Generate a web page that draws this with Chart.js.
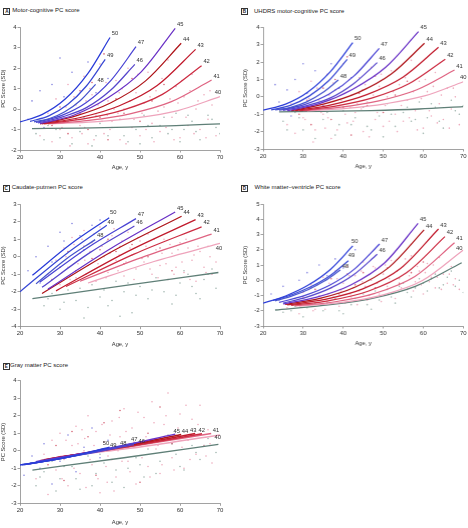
<!DOCTYPE html>
<html><head><meta charset="utf-8"><title>PC scores by CAG length</title>
<script src="https://cdn.jsdelivr.net/npm/chart.js@4.4.1/dist/chart.umd.min.js"></script>
<style>
html,body{margin:0;padding:0;background:#fff;}
body{width:468px;height:528px;position:relative;overflow:hidden;font-family:"Liberation Sans",Arial,sans-serif;}
.ptitle{position:absolute;font-size:6px;color:#222;white-space:nowrap;line-height:7px;}
.pbox{position:absolute;width:5px;height:5px;border:0.8px solid #333;font-size:4.6px;font-weight:bold;line-height:5px;text-align:center;color:#222;}
canvas{position:absolute;}
</style></head><body>
<script>
// ---------- DATA ----------
const cagLengths = [50,49,48,47,46,45,44,43,42,41,40];
const xTicks = [20,30,40,50,60,70];

// Panel A: Motor-cognitive PC score
const ageA = [[20,25.6,31.3,36.9,42.5],[22.5,27.2,31.9,36.6,41.3],[23.5,27.4,31.2,35.1,38.9],[24,30.3,36.5,42.8,49],[24.5,30.6,36.6,42.7,48.7],[25,33.4,41.9,50.3,58.8],[25,33.8,42.6,51.4,60.3],[25.5,35.1,44.7,54.3,63.9],[26,35.9,45.7,55.6,65.4],[27,37.2,47.5,57.7,67.9],[28,38.5,49,59.5,70]];
const scoreA = [[-0.63,-0.26,0.49,1.72,3.5],[-0.6,-0.33,0.22,1.13,2.43],[-0.62,-0.46,-0.13,0.42,1.21],[-0.65,-0.32,0.31,1.42,3.05],[-0.68,-0.38,0.07,0.93,2.19],[-0.7,-0.3,0.54,1.82,3.95],[-0.72,-0.34,0.30,1.38,3.22],[-0.72,-0.41,0.15,1.15,2.92],[-0.72,-0.48,-0.05,0.72,2.12],[-0.72,-0.55,-0.23,0.35,1.42],[-0.72,-0.62,-0.43,-0.07,0.61]];
const ctrlAgeA = [23,35,47,59,70];
const ctrlScoreA = [-0.95,-0.93,-0.88,-0.81,-0.72];
const pinkA = [[25,-1.3],[27,-0.2],[28,-1.6],[29,0.5],[30,-1.0],[31,-0.4],[32,1.2],[33,-1.4],[34,0.2],[35,-0.8],[36,1.6],[37,-1.7],[38,0.7],[39,-0.3],[40,2.2],[41,-1.2],[42,0.4],[43,-0.6],[44,1.4],[45,-1.5],[46,0.0],[47,2.0],[48,-0.9],[49,0.8],[50,-1.3],[51,0.3],[52,1.8],[53,-0.7],[54,0.9],[55,-1.1],[56,0.1],[57,2.4],[58,-0.4],[59,1.1],[60,-1.4],[61,0.6],[62,-0.8],[63,1.7],[64,0.0],[65,-1.0],[66,0.7],[67,-0.5],[68,0.2],[69,-1.3],
 [30.5,-0.9],[31.5,0.1],[32.5,-1.8],[33.5,0.6],[34.5,-0.3],[35.5,-1.2],[36.5,0.4],[37.5,1.0],[38.5,-1.5],[39.5,0.2],[40.5,-0.6],[41.5,1.3],[42.5,-1.0],[43.5,0.0],[44.5,-0.2],[45.5,1.0],[46.5,-1.7],[47.5,0.4],[48.5,-0.5],[49.5,1.7],[50.5,-0.2],[51.5,-1.0],[52.5,0.6],[53.5,-1.6],[54.5,-0.1],[55.5,1.5],[56.5,-0.9],[57.5,0.5],[58.5,-1.5],[59.5,0.3],[60.5,1.4],[61.5,-0.4],[62.5,0.9],[63.5,-1.2],[64.5,0.4],[66.5,-1.4],[67.5,0.9],[36.2,-0.9],[41.8,-0.3],[44.8,0.8]];
const redA = [[28,-0.8],[30,0.1],[32,-1.2],[34,-0.5],[35,0.9],[37,-1.0],[38,1.3],[40,-0.4],[41,2.7],[42,-1.5],[44,0.5],[46,-0.2],[48,1.5],[50,-0.6],[53,0.4],[56,1.2]];
const blueA = [[22,-0.5],[23,0.4],[25,0.9],[26,-0.9],[28,1.2],[30,2.5],[31,0.6],[33,1.8],[35,-0.2],[37,2.3],[39,0.8],[42,1.5]];
const grayA = [[24,-1.2],[27,-0.8],[30,-1.4],[32,-0.6],[35,-1.1],[38,-1.8],[40,-0.7],[42,-1.3],[45,-0.5],[47,-1.6],[49,-1.0],[51,-0.3],[53,-1.4],[55,-0.8],[57,-1.2],[59,-0.2],[61,-1.0],[63,-0.6],[65,-1.5],[67,-0.3],[69,-0.9],[70,-1.2],
 [26,-1.5],[29,-1.0],[33,-1.7],[36,-0.4],[39,-1.3],[43,-0.9],[46,-1.3],[50,-1.7],[52,-0.8],[56,-0.4],[58,-1.0],[60,-1.6],[62,-0.3],[64,-1.1],[68,-0.5]];

// Panel B: UHDRS motor-cognitive PC score
const ageB = [[20,25.6,31.2,36.8,42.4],[22,26.8,31.5,36.3,41],[23,26.9,30.9,34.8,38.8],[24,30.3,36.5,42.8,49],[25,30.9,36.8,42.6,48.5],[26,34.2,42.4,50.6,58.8],[27,35.3,43.7,52,60.3],[28,37,45.9,54.9,63.8],[29,38.1,47.3,56.4,65.5],[30,39.5,48.9,58.4,67.8],[31,40.8,50.5,60.3,70]];
const scoreB = [[-0.77,-0.42,0.28,1.45,3.12],[-0.75,-0.49,0.04,0.91,2.16],[-0.75,-0.60,-0.29,0.23,0.97],[-0.77,-0.45,0.16,1.22,2.79],[-0.78,-0.50,-0.06,0.76,1.97],[-0.8,-0.38,0.44,1.70,3.75],[-0.8,-0.41,0.24,1.31,3.08],[-0.8,-0.46,0.13,1.13,2.85],[-0.8,-0.53,-0.06,0.75,2.16],[-0.8,-0.59,-0.23,0.41,1.54],[-0.8,-0.66,-0.40,0.05,0.87]];
const ctrlAgeB = [24,35,47,59,70];
const ctrlScoreB = [-0.86,-0.84,-0.79,-0.70,-0.56];
const pinkB = [[26,-1.6],[27,-0.4],[28,-2.1],[29,0.3],[30,-1.2],[31,-0.7],[32,0.9],[33,-1.9],[34,-0.2],[35,-1.0],[36,1.3],[37,-2.4],[38,0.4],[39,-0.6],[40,1.9],[41,-1.5],[42,0.1],[43,-0.9],[44,1.1],[45,-2.0],[46,-0.3],[47,1.7],[48,-1.3],[49,0.6],[50,-1.7],[51,0.0],[52,1.5],[53,-1.0],[54,0.7],[55,-1.4],[56,-0.2],[57,2.1],[58,-0.8],[59,0.9],[60,-1.8],[61,0.3],[62,-1.1],[63,1.4],[64,-0.4],[65,-1.3],[66,0.5],[67,-0.7],[68,0.0],[69,-1.6],
 [30.5,-1.3],[31.5,-0.1],[32.5,-2.6],[33.5,0.5],[34.5,-0.9],[35.5,-1.8],[36.5,0.1],[37.5,0.8],[38.5,-1.9],[39.5,-0.2],[40.5,-1.0],[41.5,1.0],[42.5,-1.4],[43.5,-0.4],[44.5,-0.7],[45.5,0.7],[46.5,-2.3],[47.5,0.1],[48.5,-0.9],[49.5,1.3],[50.5,-0.5],[51.5,-1.4],[52.5,0.3],[53.5,-2.0],[54.5,-0.5],[55.5,1.1],[56.5,-1.2],[57.5,0.3],[58.5,-1.9],[59.5,-0.1],[60.5,1.0],[61.5,-0.8],[62.5,0.6],[63.5,-1.5],[64.5,0.1],[66.5,-1.8],[67.5,0.5],[36.2,-1.2],[41.8,-0.6],[44.8,0.4]];
const redB = [[29,-1.0],[31,-0.2],[32,-1.6],[34,-0.8],[35,0.5],[37,-1.3],[38,1.0],[40,-0.6],[41,2.3],[42,-2.2],[44,0.2],[46,-0.5],[48,1.2],[50,-0.9],[53,0.1],[56,0.9]];
const blueB = [[23,0.7],[24,-0.3],[26,0.4],[27,-1.1],[28,1.0],[30,1.9],[31,0.2],[33,1.5],[35,-0.5],[37,1.9],[39,0.5],[42,1.1]];
const grayB = [[25,-1.4],[28,-0.9],[30,-1.9],[33,-0.7],[35,-1.3],[38,-2.2],[40,-0.8],[42,-1.6],[45,-0.6],[47,-1.9],[49,-1.1],[51,-0.4],[53,-1.7],[55,-0.9],[57,-1.4],[59,-0.3],[61,-1.2],[63,-0.6],[65,-1.8],[67,-0.2],[69,-1.0],[70,-0.5],
 [26,-1.9],[29,-1.2],[33,-2.4],[36,-0.9],[39,-1.6],[43,-1.2],[46,-1.7],[50,-2.3],[52,-1.0],[56,-0.6],[58,-1.3],[60,-2.1],[62,-0.4],[64,-1.4],[68,-0.8]];

// Panel C: Caudate-putmen PC score
const ageC = [[23.1,32.7,42.3],[20,30.9,41.7],[24,31.4,38.8],[25,37,49],[25.5,37.1,48.6],[27,42.9,58.8],[25.5,43,60.4],[29,46.5,63.9],[31.5,48.5,65.4],[35,51.5,67.9],[37,53.5,70]];
const scoreC = [[-1.06,0.73,2.23],[-2.0,0.05,1.8],[-1.55,-0.15,0.98],[-1.45,0.53,2.18],[-1.75,0.18,1.76],[-1.85,0.50,2.56],[-2.1,0.3,2.32],[-1.95,0.25,2.12],[-1.7,0.15,1.71],[-1.4,0.05,1.29],[-1.5,-0.27,0.76]];
const ctrlAgeC = [23.1,46,69.6];
const ctrlScoreC = [-2.4,-1.65,-0.9];
const pinkC = [[27,-1.0],[29,-0.2],[30,-1.6],[31,0.5],[32,-0.6],[33,1.1],[34,-1.2],[35,0.2],[36,1.5],[37,-0.5],[38,0.8],[39,-1.4],[40,1.7],[41,0.0],[42,-0.9],[43,1.2],[44,-0.2],[45,0.6],[46,-1.1],[47,1.4],[48,0.1],[49,-0.7],[50,0.9],[51,-0.3],[52,1.3],[53,-1.0],[54,0.4],[55,-0.5],[56,1.0],[57,-1.3],[58,0.2],[59,-0.6],[60,0.8],[61,-0.9],[62,0.5],[63,-0.2],[64,-1.4],[65,0.3],[66,-0.6],[67,0.6],[68,-1.0],[69,-0.3],
 [30.5,-0.9],[31.5,0.0],[32.5,-1.3],[33.5,0.7],[34.5,-0.4],[35.5,1.0],[36.5,-1.0],[37.5,0.3],[38.5,1.3],[39.5,-0.4],[40.5,0.6],[41.5,-1.2],[42.5,0.2],[43.5,1.6],[44.5,-0.8],[45.5,0.9],[46.5,-0.3],[47.5,0.5],[48.5,-1.3],[49.5,1.1],[50.5,-0.1],[51.5,0.6],[52.5,-0.7],[53.5,1.0],[54.5,-1.2],[55.5,0.2],[56.5,-0.4],[57.5,0.7],[58.5,-1.0],[59.5,0.4],[60.5,-0.3],[61.5,1.0],[62.5,-1.3],[63.5,0.1],[64.5,0.6],[66.5,-0.9],[67.5,0.0],[36.2,-0.2],[41.8,0.9],[44.8,0.1]];
const redC = [[28,-1.3],[30,-0.6],[32,0.3],[34,-0.8],[36,0.6],[38,-0.1],[40,0.4],[42,1.0],[44,0.3],[46,-0.4],[48,0.7],[52,0.0],[55,0.5],[58,-0.8]];
const blueC = [[22,-0.8],[24,0.0],[25,-1.5],[27,0.6],[28,-0.3],[30,1.4],[31,0.9],[33,1.9],[35,1.2],[36,0.4],[38,1.8],[40,2.1]];
const grayC = [[26,-2.8],[28,-2.1],[30,-3.0],[32,-1.9],[34,-2.5],[36,-3.5],[38,-1.6],[40,-2.3],[42,-2.8],[44,-1.4],[46,-2.0],[48,-3.2],[50,-1.7],[52,-2.4],[54,-1.2],[56,-2.0],[58,-2.7],[60,-1.5],[62,-1.0],[64,-2.1],[66,-1.3],[68,-0.7],[69,-1.8],[45,-3.4],
 [27,-2.4],[31,-2.6],[35,-1.8],[37,-2.9],[41,-1.9],[43,-2.5],[47,-1.5],[49,-2.2],[53,-1.9],[57,-1.3],[59,-2.2],[61,-0.8],[63,-1.7],[65,-2.4],[67,-1.0]];

// Panel D: White matter-ventricle PC score
const ageD = [[20,25.6,31.2,36.8,42.4],[22.5,27.2,31.9,36.6,41.3],[23,27.1,31.2,35.2,39.3],[24,30.3,36.6,42.8,49.1],[25,30.9,36.8,42.6,48.5],[25,33.4,41.9,50.3,58.7],[25.5,34.2,42.9,51.5,60.2],[26,35.4,44.9,54.3,63.8],[27,36.6,46.2,55.8,65.4],[28,38,47.9,57.9,67.8],[29,39.3,49.5,59.8,70]];
const scoreD = [[-1.5,-1.03,-0.33,0.71,2.25],[-1.32,-0.95,-0.43,0.28,1.28],[-1.35,-1.04,-0.62,-0.07,0.67],[-1.45,-1.01,-0.33,0.73,2.38],[-1.5,-1.11,-0.52,0.36,1.70],[-1.55,-1.11,-0.31,1.13,3.73],[-1.58,-1.19,-0.46,0.86,3.30],[-1.62,-1.26,-0.57,0.77,3.36],[-1.65,-1.33,-0.72,0.49,2.86],[-1.68,-1.41,-0.86,0.25,2.46],[-1.7,-1.47,-0.99,-0.02,1.98]];
const ctrlAgeD = [23,35,47,58,69.6];
const ctrlScoreD = [-1.95,-1.65,-1.2,-0.4,1.15];
const pinkD = [[26,-1.8],[28,-1.2],[29,-2.2],[30,-0.8],[31,-1.5],[32,-0.3],[33,-1.9],[34,-1.0],[35,0.2],[36,-1.4],[37,-0.5],[38,0.6],[39,-1.7],[40,-0.2],[41,0.9],[42,-1.1],[43,0.3],[44,-0.7],[45,1.2],[46,-1.3],[47,0.0],[48,0.8],[49,-0.9],[50,0.4],[51,-0.4],[52,1.3],[53,-1.2],[54,0.1],[55,0.9],[56,-0.6],[57,1.6],[58,-0.1],[59,0.6],[60,-0.9],[61,1.1],[62,0.2],[63,-0.5],[64,1.5],[65,0.4],[66,-0.2],[67,0.9],[68,0.1],[69,-0.6],
 [30.5,-1.4],[31.5,-0.6],[32.5,-2.0],[33.5,-0.3],[34.5,-1.2],[35.5,-1.9],[36.5,-0.2],[37.5,-1.1],[38.5,0.1],[39.5,-0.7],[40.5,-1.5],[41.5,0.3],[42.5,-0.5],[43.5,-1.6],[44.5,0.6],[45.5,-0.4],[46.5,-1.0],[47.5,0.9],[48.5,-0.2],[49.5,-1.4],[50.5,1.0],[51.5,0.1],[52.5,-0.8],[53.5,0.6],[54.5,-0.5],[55.5,1.4],[56.5,0.3],[57.5,-0.7],[58.5,0.9],[59.5,-0.3],[60.5,0.5],[61.5,-0.1],[62.5,1.0],[63.5,0.2],[64.5,-0.6],[66.5,0.4],[67.5,-0.3],[36.2,-0.9],[41.8,-0.9],[44.8,-0.1]];
const redD = [[27,-1.5],[30,-1.1],[33,-0.6],[35,-1.6],[37,0.1],[39,-0.9],[41,0.4],[43,-0.3],[45,0.5],[48,-0.5],[51,0.8],[54,-0.2],[57,0.5],[60,1.2]];
const blueD = [[22,-0.9],[24,-1.3],[25,-0.4],[27,-0.9],[29,0.0],[31,0.5],[32,-0.5],[34,1.0],[36,0.3],[38,1.4],[40,0.8],[43,2.0]];
const grayD = [[25,-2.1],[28,-1.7],[30,-2.4],[33,-1.5],[35,-2.0],[38,-1.2],[40,-2.2],[42,-1.6],[45,-0.9],[47,-1.9],[49,-1.3],[51,-0.6],[53,-1.5],[55,-0.2],[57,-1.1],[59,0.1],[61,-0.7],[63,0.4],[65,-0.3],[67,0.6],[69,0.0],[70,-0.8],
 [27,-2.0],[31,-1.8],[36,-1.5],[39,-2.0],[43,-1.2],[46,-1.6],[48,-0.7],[52,-1.1],[54,-0.4],[56,-0.8],[58,-0.5],[60,-0.2],[62,0.1],[64,-0.5],[66,0.2],[68,-0.4]];

// Panel E: Gray matter PC score
const ageE = [[20,31.2,42.4],[20.5,30.8,41],[21,29.9,38.8],[22,35.5,49],[22.5,35.5,48.5],[24,41.4,58.8],[25,42.7,60.3],[26,44.9,63.8],[27.5,46.5,65.5],[29,48.4,67.8],[30,50,70]];
const scoreE = [[-0.81,-0.4,0.2],[-0.8,-0.42,0.1],[-0.79,-0.46,-0.05],[-0.75,-0.2,0.45],[-0.73,-0.22,0.35],[-0.62,0.1,0.95],[-0.57,0.12,0.93],[-0.52,0.2,0.98],[-0.45,0.22,0.97],[-0.38,0.27,0.98],[-0.33,0.22,0.9]];
const ctrlAgeE = [23.1,46,69.6];
const ctrlScoreE = [-1.1,-0.4,0.37];
const pinkE = [[24,-1.6],[26,-0.2],[27,-2.5],[28,0.6],[29,-1.1],[30,1.0],[31,-0.5],[32,-2.0],[33,0.3],[34,1.4],[35,-1.3],[36,0.0],[37,2.0],[38,-0.8],[39,1.1],[40,-2.4],[41,0.5],[42,-0.3],[43,1.7],[44,-1.5],[45,0.8],[46,2.4],[47,-0.6],[48,1.3],[49,-1.9],[50,0.4],[51,1.9],[52,-0.9],[53,2.8],[54,0.1],[55,-1.3],[56,1.5],[57,3.3],[58,-0.4],[59,0.9],[60,2.1],[61,-1.0],[62,0.6],[63,1.8],[64,-0.2],[65,2.6],[66,0.3],[67,1.2],[68,-0.7],[69,0.8],
 [30.5,-1.6],[31.5,0.6],[32.5,-0.3],[33.5,-1.0],[34.5,0.4],[35.5,1.2],[36.5,-2.1],[37.5,-0.5],[38.5,0.3],[39.5,-1.6],[40.5,1.5],[41.5,-0.9],[42.5,0.9],[43.5,-2.3],[44.5,0.0],[45.5,-0.6],[46.5,1.1],[47.5,-1.2],[48.5,0.5],[49.5,2.2],[50.5,-0.4],[51.5,0.8],[52.5,-1.5],[53.5,1.6],[54.5,0.3],[55.5,-0.8],[56.5,2.0],[57.5,0.6],[58.5,-1.1],[59.5,1.3],[60.5,0.2],[61.5,2.6],[62.5,-0.5],[63.5,0.9],[64.5,1.5],[66.5,-0.3],[67.5,0.4],[36.2,0.7],[41.8,-1.8],[44.8,1.9]];
const redE = [[27,-0.8],[29,0.3],[31,-1.7],[33,1.1],[35,-0.2],[37,0.8],[39,-1.4],[41,1.6],[43,-0.5],[45,2.3],[47,0.2],[50,-1.8],[52,1.0],[55,2.5],[58,0.4]];
const blueE = [[21,-1.4],[23,-0.3],[25,-1.0],[26,0.4],[28,-1.9],[30,-0.6],[32,0.9],[34,-1.2],[36,0.2],[38,1.3],[40,-0.4],[42,0.6]];
const grayE = [[24,-2.0],[26,-1.2],[28,-0.6],[30,-1.6],[33,-0.9],[35,-2.2],[37,-0.3],[39,-1.3],[41,-0.7],[43,-1.8],[45,0.2],[47,-1.0],[49,-0.4],[51,-1.5],[53,0.5],[55,-0.6],[57,0.9],[59,-0.2],[61,-1.1],[63,0.3],[65,-0.5],[67,0.7],[69,-0.1],
 [25,-1.5],[29,-2.3],[31,-0.9],[34,-1.6],[38,-2.0],[40,-0.2],[44,-1.1],[46,-2.1],[50,-0.8],[52,0.1],[54,-1.3],[58,0.4],[60,-0.9],[64,-0.1],[66,0.3]];

// ---------- STYLE / LAYOUT ----------
const lineColors = ['#2a3cd8','#3848d4','#4654cc','#4a44d4','#5646cc','#6a32c6','#ae1419','#c11a2c','#cc2c42','#df6482','#eea3bb'];
const ctrlColor = '#5f7f77';
const dotColors = ['rgba(234,150,172,0.8)','rgba(196,40,64,0.7)','rgba(84,84,212,0.7)','rgba(140,166,158,0.8)'];
const FONT = '"Liberation Sans", Arial, sans-serif';

const panels = [
 {letter:'A', title:'Motor-cognitive PC score', ages:ageA, scores:scoreA, cA:ctrlAgeA, cS:ctrlScoreA, dots:[pinkA,redA,blueA,grayA], yMin:-2, yMax:4,
  area:{x0:20,x1:220,y0:27.3,y1:150}, xH:22, right:232, box:[3.3,7.7], text:[12.3,7], off:{40:[-2,-4]}},
 {letter:'B', title:'UHDRS motor-cognitive PC score', ages:ageB, scores:scoreB, cA:ctrlAgeB, cS:ctrlScoreB, dots:[pinkB,redB,blueB,grayB], yMin:-3, yMax:4,
  area:{x0:263.3,x1:463.3,y0:27.3,y1:149}, xH:22, right:468, box:[241,8.3], text:[254,7.5], off:{40:[0,-4]}},
 {letter:'C', title:'Caudate-putmen PC score', ages:ageC, scores:scoreC, cA:ctrlAgeC, cS:ctrlScoreC, dots:[pinkC,redC,blueC,grayC], yMin:-4, yMax:3,
  area:{x0:20,x1:220,y0:204.3,y1:326.7}, xH:22, right:232, box:[2.7,184.7], text:[11.7,184.2], off:{40:[-1,5],50:[4,-5],49:[4,-2.5]}},
 {letter:'D', title:'White matter\u2013ventricle PC score', ages:ageD, scores:scoreD, cA:ctrlAgeD, cS:ctrlScoreD, dots:[pinkD,redD,blueD,grayD], yMin:-3, yMax:5,
  area:{x0:263.3,x1:463.3,y0:204,y1:326}, xH:22, right:468, box:[241,184.5], text:[254.5,184], off:{40:[-4,-2],50:[2,-5],49:[3,-5]}},
 {letter:'E', title:'Gray matter PC score', ages:ageE, scores:scoreE, cA:ctrlAgeE, cS:ctrlScoreE, dots:[pinkE,redE,blueE,grayE], yMin:-3, yMax:4,
  area:{x0:20,x1:220,y0:380.7,y1:503.3}, xH:24, right:232, box:[2.7,362.5], text:[10,362],
  off:{50:[-3.6,-4],49:[9.3,-4],48:[28,-8.4],47:[-1.7,-3],46:[7.7,-3.6],45:[1.5,-3.1],44:[3.8,-3.5],43:[-1.9,-3.6],42:[-0.3,-3.8],41:[4.8,-3.6],40:[-2.3,2.3]}, lw:1.5}
];

const endLabels = {
  id:'endLabels',
  afterDatasetsDraw(chart, args, opts){
    const ctx = chart.ctx, xs = chart.scales.x, ys = chart.scales.y;
    ctx.save();
    ctx.font = '5.8px ' + FONT;
    ctx.fillStyle = '#333';
    ctx.textAlign = 'center';
    ctx.textBaseline = 'middle';
    chart.data.datasets.forEach(ds => {
      if (ds.cag == null) return;
      const p = ds.data[ds.data.length-1];
      const o = (opts.off && opts.off[ds.cag]) || [5,-4];
      ctx.fillText(String(ds.cag), xs.getPixelForValue(p.x)+o[0], ys.getPixelForValue(p.y)+o[1]);
    });
    ctx.restore();
  }
};

panels.forEach(pn => {
  const box = document.createElement('div');
  box.className = 'pbox'; box.textContent = pn.letter;
  box.style.left = pn.box[0]+'px'; box.style.top = pn.box[1]+'px';
  document.body.appendChild(box);
  const tt = document.createElement('div');
  tt.className = 'ptitle'; tt.textContent = pn.title;
  tt.style.left = pn.text[0]+'px'; tt.style.top = pn.text[1]+'px';
  document.body.appendChild(tt);

  const a = pn.area;
  const yW = Math.min(21, a.x0);
  const L = a.x0 - yW;
  const T = Math.floor(a.y0 - 12);
  const W = pn.right - L;
  const H = Math.ceil(a.y1 + pn.xH - T);
  const cv = document.createElement('canvas');
  cv.width = W; cv.height = H;
  cv.style.left = L+'px'; cv.style.top = T+'px';
  cv.style.width = W+'px'; cv.style.height = H+'px';
  document.body.appendChild(cv);

  const datasets = [];
  cagLengths.forEach((c, i) => {
    datasets.push({type:'line', cag:c, data: pn.ages[i].map((x,j)=>({x, y: pn.scores[i][j]})),
      borderColor: lineColors[i], borderWidth: pn.lw || 1.25, pointRadius:0, fill:false,
      cubicInterpolationMode:'monotone', order:1});
  });
  datasets.push({type:'line', data: pn.cA.map((x,j)=>({x, y: pn.cS[j]})), borderColor: ctrlColor, borderWidth:1.3,
    pointRadius:0, fill:false, cubicInterpolationMode:'monotone', order:2});
  pn.dots.forEach((arr, k) => {
    datasets.push({type:'scatter', data: arr.map(p=>({x:p[0], y:p[1]})), backgroundColor: dotColors[k],
      borderWidth:0, pointRadius:0.8, order:3});
  });

  new Chart(cv, {
    type:'scatter',
    data:{datasets},
    plugins:[endLabels],
    options:{
      responsive:false, animation:false, devicePixelRatio:1,
      layout:{padding:{left:0, top:a.y0 - T, right: L + W - a.x1, bottom: T + H - (a.y1 + pn.xH)}},
      plugins:{legend:{display:false}, tooltip:{enabled:false}, endLabels:{off:pn.off}},
      scales:{
        x:{type:'linear', min:20, max:70,
          afterBuildTicks: s => { s.ticks = xTicks.map(v => ({value:v})); },
          ticks:{font:{size:6, family:FONT}, color:'#333', padding:1, maxRotation:0},
          grid:{drawOnChartArea:false, tickLength:2.5, color:'#8a8a8a', lineWidth:0.8},
          border:{color:'#8a8a8a', width:0.8},
          title:{display:true, text:'Age, y', font:{size:5.8, family:FONT}, color:'#333', padding:{top:0,bottom:1}},
          afterFit: s => { s.height = pn.xH; }},
        y:{type:'linear', min:pn.yMin, max:pn.yMax,
          ticks:{stepSize:1, font:{size:6, family:FONT}, color:'#333', padding:1},
          grid:{drawOnChartArea:false, tickLength:2.5, color:'#8a8a8a', lineWidth:0.8},
          border:{color:'#8a8a8a', width:0.8},
          title:{display:true, text:'PC Score (SD)', font:{size:5.8, family:FONT}, color:'#333', padding:{top:0,bottom:1}},
          afterFit: s => { s.width = yW; }}
      }
    }
  });
});
</script>
</body></html>
